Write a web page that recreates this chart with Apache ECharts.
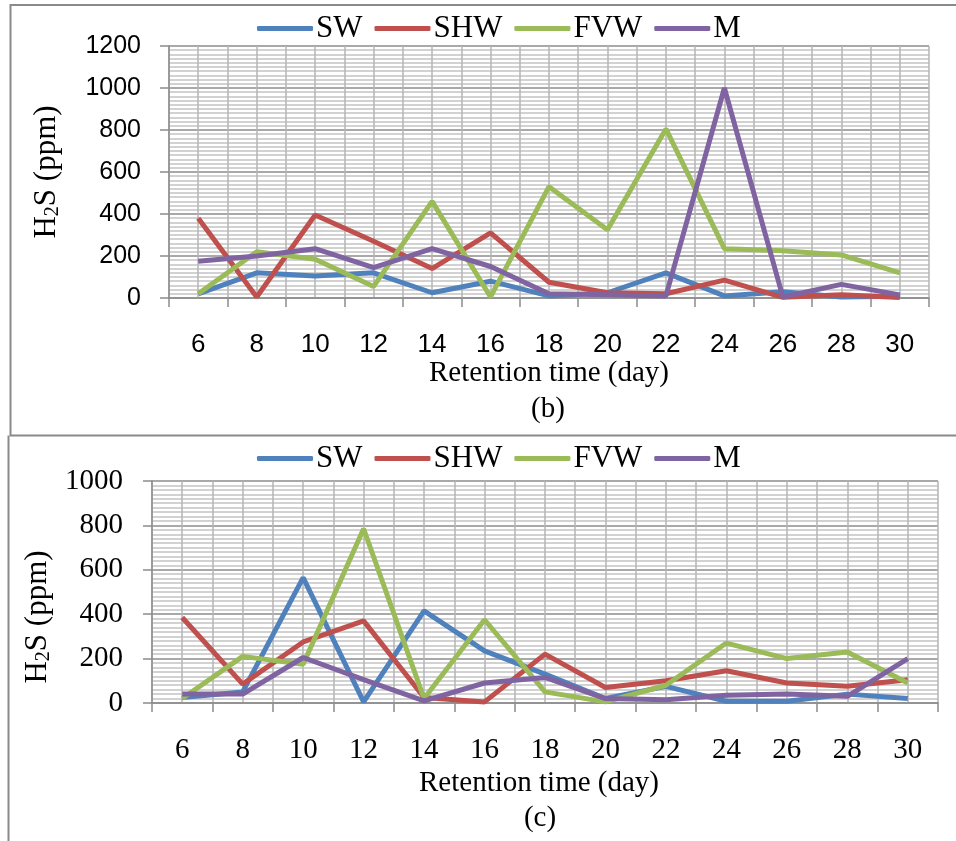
<!DOCTYPE html>
<html>
<head>
<meta charset="utf-8">
<script src="https://cdn.jsdelivr.net/npm/echarts@6/dist/echarts.min.js"></script>
<style>
html,body{margin:0;padding:0;background:#fff;}
#chart{width:956px;height:841px;}
</style>
</head>
<body>
<div id="chart"></div>
<script>
// Categories (retention time, day)
const days = [6, 8, 10, 12, 14, 16, 18, 20, 22, 24, 26, 28, 30];
const seriesNames = ['SW', 'SHW', 'FVW', 'M'];
const yTicksB = [0, 200, 400, 600, 800, 1000, 1200];
const yTicksC = [0, 200, 400, 600, 800, 1000];

// Panel (b)
const b_SW  = [20, 120, 105, 120, 25, 80, 10, 25, 120, 10, 30, 5, 8];
const b_SHW = [380, 5, 395, 270, 140, 310, 75, 25, 20, 85, 3, 15, 2];
const b_FVW = [20, 220, 185, 55, 460, 5, 530, 325, 805, 235, 225, 205, 120];
const b_M   = [175, 200, 235, 145, 235, 150, 20, 15, 10, 1000, 5, 65, 15];

// Panel (c)
const c_SW  = [25, 50, 565, 5, 415, 235, 130, 20, 75, 8, 8, 40, 20];
const c_SHW = [385, 85, 275, 370, 25, 5, 220, 70, 100, 145, 90, 75, 105];
const c_FVW = [20, 210, 175, 785, 20, 375, 50, 5, 80, 270, 200, 230, 90];
const c_M   = [40, 40, 205, 105, 10, 90, 115, 20, 15, 35, 40, 30, 200];

const colors = ['#4F81BD', '#C0504D', '#9BBB59', '#8064A2'];
const serif = '"Liberation Serif", "Times New Roman", serif';
const sans = '"Liberation Sans", Arial, sans-serif';

const chart = echarts.init(document.getElementById('chart'));

function catAxis(gridIndex, font, fsize, margin, nameGap, namePad) {
  return {
    type: 'category', gridIndex, data: days.map(String), boundaryGap: true,
    axisLine: { show: true, lineStyle: { color: '#8c8c8c', width: 1.5 } },
    axisTick: { show: true, length: 9, lineStyle: { color: '#8c8c8c', width: 1.5 } },
    axisLabel: { color: '#000', fontFamily: font, fontSize: fsize, margin, interval: 0 },
    splitLine: { show: false },
    name: 'Retention time (day)', nameLocation: 'middle', nameGap,
    nameTextStyle: { color: '#000', fontFamily: serif, fontSize: 29, padding: namePad },
    z: 3
  };
}
function gridXAxis(gridIndex) {
  return {
    type: 'value', gridIndex, min: days[0] - 1, max: days[days.length - 1] + 1, interval: 1,
    axisLine: { show: false }, axisTick: { show: false }, axisLabel: { show: false },
    splitLine: { show: true, lineStyle: { color: '#b4b4b4', width: 1.5 } },
    position: 'top'
  };
}
function valAxis(gridIndex, ticks, font, fsize, margin, nameGap, namePad) {
  return {
    type: 'value', gridIndex, min: ticks[0], max: ticks[ticks.length - 1],
    interval: ticks[1] - ticks[0],
    axisLine: { show: true, lineStyle: { color: '#8c8c8c', width: 1.5 } },
    axisTick: { show: true, length: 9, lineStyle: { color: '#8c8c8c', width: 1.5 } },
    axisLabel: { color: '#000', fontFamily: font, fontSize: fsize, margin, formatter: v => String(v) },
    splitLine: { show: true, lineStyle: { color: '#8c8c8c', width: 1.5 } },
    minorTick: { show: false, splitNumber: 10 },
    minorSplitLine: { show: true, lineStyle: { color: '#c4c4c4', width: 1.5 } },
    name: 'H{sub|2}S (ppm)', nameLocation: 'middle', nameGap,
    nameTextStyle: {
      color: '#000', fontFamily: serif, fontSize: 31, padding: namePad,
      rich: { sub: { fontFamily: serif, fontSize: 20, verticalAlign: 'bottom', padding: [12, 0, 0, 0] } }
    }
  };
}

const dataB = [b_SW, b_SHW, b_FVW, b_M];
const dataC = [c_SW, c_SHW, c_FVW, c_M];
const series = [];
dataB.forEach((d, i) => series.push({
  name: seriesNames[i], type: 'line', xAxisIndex: 0, yAxisIndex: 0, data: d,
  symbol: 'none', lineStyle: { width: 5, color: colors[i] }, itemStyle: { color: colors[i] }, z: 5
}));
dataC.forEach((d, i) => series.push({
  name: seriesNames[i], type: 'line', xAxisIndex: 2, yAxisIndex: 1, data: d,
  symbol: 'none', lineStyle: { width: 5, color: colors[i] }, itemStyle: { color: colors[i] }, z: 5
}));

function legend(top) {
  return {
    data: seriesNames, left: 252, top, itemWidth: 56, itemHeight: 5, itemGap: 12,
    icon: 'roundRect',
    selectedMode: false,
    textStyle: { color: '#000', fontFamily: serif, fontSize: 31, padding: [0, 0, 0, -2] }
  };
}

chart.setOption({
  animation: false,
  backgroundColor: '#fff',
  color: colors,
  legend: [legend(8), legend(438)],
  grid: [
    { left: 169, top: 46, width: 760, height: 252, containLabel: false },
    { left: 152, top: 481, width: 786, height: 222, containLabel: false }
  ],
  xAxis: [
    catAxis(0, sans, 26, 34, 61, [0, 0, 0, 0]),
    gridXAxis(0),
    catAxis(1, serif, 29, 33, 66, [0, 12, 0, 0]),
    gridXAxis(1)
  ],
  yAxis: [
    valAxis(0, yTicksB, sans, 25, 28, 106, [0, 0, 0, 0]),
    valAxis(1, yTicksC, serif, 29, 29, 92, [0, 50, 0, 0])
  ],
  graphic: [
    { type: 'polyline', shape: { points: [[956, 5], [10.5, 5], [10.5, 435.5], [956, 435.5]] },
      style: { stroke: '#8a8a8a', lineWidth: 2, fill: null }, silent: true },
    { type: 'line', shape: { x1: 8.5, y1: 435.5, x2: 8.5, y2: 841 },
      style: { stroke: '#8a8a8a', lineWidth: 2 }, silent: true },
    { type: 'text', x: 548, y: 409, style: { text: '(b)', font: '29px ' + serif, fill: '#000', textAlign: 'center', textVerticalAlign: 'middle' } },
    { type: 'text', x: 540, y: 818, style: { text: '(c)', font: '29px ' + serif, fill: '#000', textAlign: 'center', textVerticalAlign: 'middle' } }
  ],
  series
});
</script>
</body>
</html>
